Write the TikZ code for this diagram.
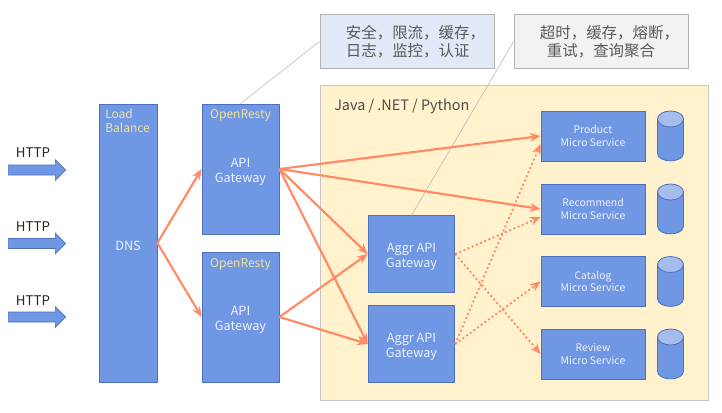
\documentclass[tikz,border=0pt]{standalone}
\usepackage{fontspec}
\setmainfont{Noto Sans CJK SC}
\usepackage{tikz}
\usetikzlibrary{arrows.meta,shapes.arrows}

\definecolor{boxblue}{RGB}{111,151,228}
\definecolor{boxedge}{RGB}{78,113,190}
\definecolor{dbtop}{RGB}{165,189,236}
\definecolor{flow}{RGB}{255,138,101}
\definecolor{tiertitle}{RGB}{240,228,150}
\definecolor{svctext}{RGB}{236,241,252}
\definecolor{tierfill}{RGB}{255,242,204}
\definecolor{secfill}{RGB}{225,232,247}

% two line gateway label, set a little low in its box
\newcommand{\gwlabel}[2]{\rule{0pt}{10.9pt}#1\\#2}

\begin{document}
\begin{tikzpicture}[x=0.75pt,y=0.75pt,yscale=-1,xscale=1,
  box/.style={draw=boxedge,fill=boxblue,line width=0.6pt,text=svctext,inner sep=0pt,align=center,font=\fontsize{9.5}{11.2}\selectfont},
  svcbox/.style={box,minimum width=78pt,minimum height=37.5pt,font=\fontsize{7.8}{9.6}\selectfont},
  aggrbox/.style={box,minimum width=65pt,minimum height=57.5pt},
  gwbox/.style={box,minimum width=57.8pt,minimum height=97.5pt},
  note/.style={draw=black!30,line width=0.7pt,minimum width=130.5pt,minimum height=41pt,inner sep=0pt,text=black!65,font=\fontsize{11.6}{13.6}\selectfont},
  tag/.style={text=tiertitle,inner sep=0pt,align=left,font=\fontsize{9}{11}\selectfont},
  http/.style={single arrow,draw=boxedge,fill=boxblue,line width=0.5pt,minimum width=15pt,minimum height=43pt,single arrow head extend=4pt,single arrow tip angle=90,inner xsep=0pt,inner ysep=3.5pt},
  httptext/.style={inner sep=0pt,text=black!85,font=\fontsize{10}{12}\selectfont},
  db/.pic={
    \draw [boxedge,line width=0.6pt,fill=boxblue] (-13,17) -- (-13,-17) .. controls (-13,-27.5) and (13,-27.5) .. (13,-17) -- (13,17) -- cycle;
    \draw [boxedge,line width=0.6pt,fill=dbtop] (0,17) ellipse (13 and 8);
  },
  call/.style={draw=flow,line width=1.6pt,-{Stealth[length=8pt,width=6.5pt]}},
  aggrcall/.style={draw=flow,line width=1.4pt,dotted,-{Stealth[length=8pt,width=6.5pt]}},
  remark/.style={draw=black!25,line width=0.5pt}]
\useasboundingbox (0,0) rectangle (722,412);

%Yellow tier
\node [draw=black!22,fill=tierfill,line width=0.8pt,minimum width=291.5pt,minimum height=236.5pt,inner sep=0pt] (tier) at (514.5,243) {};
\node [inner sep=0pt,anchor=west,text=black!70,font=\fontsize{10.8}{12}\selectfont] (tierlabel) at (334,106.5) {Java / .NET / Python};

%Notes
\node [note,fill=secfill,align=left] (secnote) at (407,41.5) {\hspace*{12.7pt}安全，限流，缓存，\\\hspace*{12.7pt}日志，监控，认证};
\node [note,fill=black!5,align=center] (aggrnote) at (601,41.5) {\hspace*{12.7pt}超时，缓存，熔断，\\重试，查询聚合};

%Left side
\node [http] (http1) at (34.5,170) {};
\node [http] (http2) at (34.5,243.5) {};
\node [http] (http3) at (34.5,317) {};
\node [httptext] (http1text) at (33,153) {HTTP};
\node [httptext] (http2text) at (33,227) {HTTP};
\node [httptext] (http3text) at (33,300.5) {HTTP};

%Load balancer
\node [box,minimum width=43.5pt,minimum height=208.5pt,text height=11.5pt] (dns) at (128,243) {DNS};
\node [tag,anchor=north west] (lb) at (105,108.5) {Load\\Balance};

%Gateways
\node [gwbox] (gw1) at (240.5,169) {\gwlabel{API}{Gateway}};
\node [gwbox] (gw2) at (240.5,317) {\gwlabel{API}{Gateway}};
\node [tag] (or1) at (240.5,115.5) {OpenResty};
\node [tag] (or2) at (240.5,264) {OpenResty};

\node [aggrbox] (aggr1) at (411.5,254) {\gwlabel{Aggr API}{Gateway}};
\node [aggrbox] (aggr2) at (411.5,344) {\gwlabel{Aggr API}{Gateway}};

%Services
\node [svcbox] (product) at (593,136) {Product\\Micro Service};
\node [svcbox] (recommend) at (593,209) {Recommend\\Micro Service};
\node [svcbox] (catalog) at (593,281.5) {Catalog\\Micro Service};
\node [svcbox] (review) at (593,354) {Review\\Micro Service};

\pic (db1) at (670.5,136) {db};
\pic (db2) at (670.5,209) {db};
\pic (db3) at (670.5,281.5) {db};
\pic (db4) at (670.5,354) {db};

%Remark lines
\draw [remark] (secnote.west) -- (gw1.north);
\draw [remark] (aggrnote.west) -- (aggr1.north);

%Solid calls
\draw [call] (dns.east) -- (gw1.west);
\draw [call] (dns.east) -- (gw2.west);
\draw [call] (gw1.east) -- (product.west);
\draw [call] (gw1.east) -- (recommend.west);
\draw [call] (gw1.east) -- (aggr1.west);
\draw [call] (gw1.east) -- (aggr2.west);
\draw [call] (gw2.east) -- (aggr1.west);
\draw [call] (gw2.east) -- (aggr2.west);

%Dotted calls
\draw [aggrcall] (aggr1.east) -- ([yshift=6]recommend.west);
\draw [aggrcall] (aggr1.east) -- (review.west);
\draw [aggrcall] (aggr2.east) -- ([yshift=6]product.west);
\draw [aggrcall] (aggr2.east) -- (catalog.west);

\end{tikzpicture}
\end{document}
